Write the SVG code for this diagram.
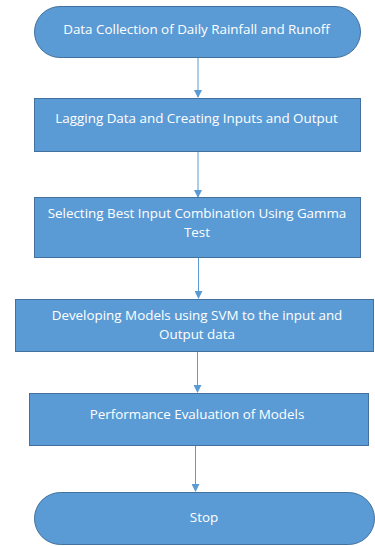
<svg xmlns="http://www.w3.org/2000/svg" width="375" height="546" viewBox="0 0 375 546">
  <defs>
    <marker id="arrow" markerWidth="8" markerHeight="8" refX="7" refY="4" orient="auto" markerUnits="userSpaceOnUse">
      <path d="M0,0 L8,4 L0,8 Z" fill="#5B9BD5"/>
    </marker>
    <style>
      .shape { fill: #5B9BD5; stroke: #41719C; stroke-width: 1; }
      .label { fill: #FFFFFF; font-family: "Open Sans", "Liberation Sans", sans-serif; font-size: 13.4px; text-anchor: middle; }
      .link { stroke: #5B9BD5; stroke-width: 1; fill: none; marker-end: url(#arrow); }
    </style>
  </defs>
  <rect width="375" height="546" fill="#FFFFFF"/>

  <g id="connectors">
    <line class="link" x1="198" y1="57" x2="198" y2="97"/>
    <line class="link" x1="198" y1="152" x2="198" y2="197"/>
    <line class="link" x1="198.5" y1="258" x2="198.5" y2="298"/>
    <line class="link" x1="197.5" y1="352" x2="197.5" y2="392"/>
    <line class="link" x1="195.5" y1="446" x2="195.5" y2="491"/>
  </g>

  <g id="start">
    <rect class="shape" x="34.5" y="6.5" width="326" height="51" rx="25.5" ry="25.5"/>
    <text class="label" x="196.5" y="34">Data Collection of Daily Rainfall and Runoff</text>
  </g>

  <g id="lagging">
    <rect class="shape" x="34.5" y="98.5" width="326" height="53"/>
    <text class="label" x="196.5" y="123">Lagging Data and Creating Inputs and Output</text>
  </g>

  <g id="selecting">
    <rect class="shape" x="34.5" y="197.5" width="326" height="60"/>
    <text class="label" x="197" y="218">Selecting Best Input Combination Using Gamma</text>
    <text class="label" x="197" y="237">Test</text>
  </g>

  <g id="developing">
    <rect class="shape" x="15.5" y="299.5" width="358" height="52"/>
    <text class="label" x="197" y="320">Developing Models using SVM to the input and</text>
    <text class="label" x="197" y="339">Output data</text>
  </g>

  <g id="evaluation">
    <rect class="shape" x="29.5" y="393.5" width="339" height="52"/>
    <text class="label" x="197" y="419">Performance Evaluation of Models</text>
  </g>

  <g id="stop">
    <rect class="shape" x="34.5" y="492.5" width="340" height="52" rx="26" ry="26"/>
    <text class="label" x="204" y="522">Stop</text>
  </g>
</svg>
